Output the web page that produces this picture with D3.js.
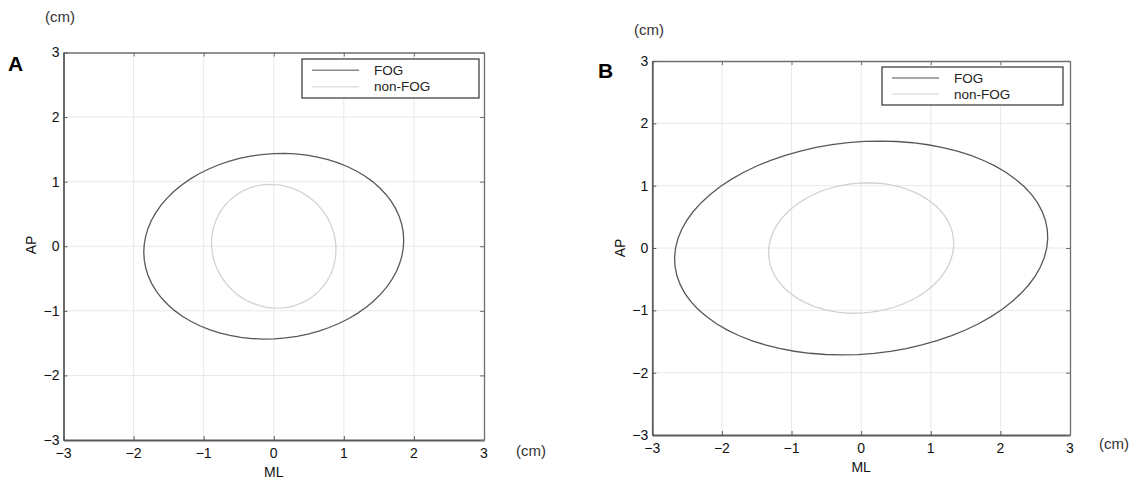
<!DOCTYPE html>
<html>
<head>
<meta charset="utf-8">
<script src="https://cdn.jsdelivr.net/npm/d3@7"></script>
<style>
  html, body { margin: 0; padding: 0; background: #fff; }
  svg { display: block; }
  text { font-family: "Liberation Sans", Arial, sans-serif; }
</style>
</head>
<body>
<svg id="chart" width="1136" height="481"></svg>
<script>
// ---- data ----
const panelIds = ["A", "B"];
const seriesNames = ["FOG", "non-FOG"];
const axisTicks = [-3, -2, -1, 0, 1, 2, 3];
// ellipse params: [centerML, centerAP, semiML, semiAP, tilt (rad)]
const ellipseA_FOG = [0.0, 0.0, 1.86, 1.43, 0.12];
const ellipseA_nonFOG = [0.0, 0.0, 0.88, 0.965, 0.3];
const ellipseB_FOG = [0.0, 0.0, 2.69, 1.70, 0.11];
const ellipseB_nonFOG = [0.0, 0.0, 1.335, 1.04, 0.14];

// ---- layout ----
const layout = {
  A: { x0: 63.5, x1: 484, y0: 52.5, y1: 440, lx0: 302, lx1: 479, ly0: 59, ly1: 98,
       letter: [8, 71], cmTop: [45, 22], cmRight: [516, 456], ap: [31, 245], ml: 472, tickY: 453 },
  B: { x0: 652.3, x1: 1070, y0: 61, y1: 435, lx0: 882, lx1: 1063, ly0: 67, ly1: 105,
       letter: [598, 78], cmTop: [634, 35], cmRight: [1099, 449], ap: [620, 248], ml: 467, tickY: 448 }
};
const ellipses = { A: [ellipseA_FOG, ellipseA_nonFOG], B: [ellipseB_FOG, ellipseB_nonFOG] };
const seriesColor = ["#585858", "#d2d2d2"];
const legendColor = ["#8a8a8a", "#e0e0e0"];

const svg = d3.select("#chart");

function ellipsePoints(p) {
  const [cx, cy, a, b, th] = p;
  return d3.range(0, 73).map(i => {
    const t = i / 72 * 2 * Math.PI;
    const ex = a * Math.cos(t), ey = b * Math.sin(t);
    return [cx + ex * Math.cos(th) - ey * Math.sin(th), cy + ex * Math.sin(th) + ey * Math.cos(th)];
  });
}

panelIds.forEach(id => {
  const L = layout[id];
  const x = d3.scaleLinear().domain([-3, 3]).range([L.x0, L.x1]);
  const y = d3.scaleLinear().domain([-3, 3]).range([L.y1, L.y0]);
  const g = svg.append("g");

  // grid
  g.append("g").selectAll("line").data(axisTicks.slice(1, -1)).join("line")
    .attr("x1", d => x(d)).attr("x2", d => x(d)).attr("y1", L.y0).attr("y2", L.y1)
    .attr("stroke", "#e8e8e8").attr("stroke-width", 1);
  g.append("g").selectAll("line").data(axisTicks.slice(1, -1)).join("line")
    .attr("y1", d => y(d)).attr("y2", d => y(d)).attr("x1", L.x0).attr("x2", L.x1)
    .attr("stroke", "#e8e8e8").attr("stroke-width", 1);

  // ellipses
  const line = d3.line().x(d => x(d[0])).y(d => y(d[1]));
  ellipses[id].forEach((p, i) => {
    g.append("path").attr("d", line(ellipsePoints(p)))
      .attr("fill", "none").attr("stroke", seriesColor[i]).attr("stroke-width", 1.3);
  });

  // axes (inward ticks, box)
  const bottom = g.append("g").attr("transform", `translate(0,${L.y1})`)
    .call(d3.axisBottom(x).tickValues(axisTicks).tickSizeInner(-4).tickSizeOuter(0).tickFormat(() => ""));
  const top = g.append("g").attr("transform", `translate(0,${L.y0})`)
    .call(d3.axisTop(x).tickValues(axisTicks).tickSizeInner(-4).tickSizeOuter(0).tickFormat(() => ""));
  const left = g.append("g").attr("transform", `translate(${L.x0},0)`)
    .call(d3.axisLeft(y).tickValues(axisTicks).tickSizeInner(-4).tickSizeOuter(0).tickFormat(() => ""));
  const right = g.append("g").attr("transform", `translate(${L.x1},0)`)
    .call(d3.axisRight(y).tickValues(axisTicks).tickSizeInner(-4).tickSizeOuter(0).tickFormat(() => ""));
  [bottom, left].forEach(a => {
    a.select(".domain").attr("stroke", "#5a5a5a").attr("stroke-width", 1.8);
    a.selectAll(".tick line").attr("stroke", "#5a5a5a");
  });
  [top, right].forEach(a => {
    a.select(".domain").attr("stroke", "#6e6e6e").attr("stroke-width", 1.3);
    a.selectAll(".tick line").attr("stroke", "#6e6e6e");
  });

  // tick labels
  const fmt = d => d < 0 ? "\u2212" + Math.abs(d) : String(d);
  g.append("g").selectAll("text").data(axisTicks).join("text")
    .attr("x", d => x(d)).attr("y", L.tickY).attr("dy", "0.35em")
    .attr("text-anchor", "middle").attr("font-size", 14).attr("fill", "#111")
    .text(fmt);
  g.append("g").selectAll("text").data(axisTicks).join("text")
    .attr("x", L.x0 - 4).attr("y", d => y(d)).attr("dy", "0.35em")
    .attr("text-anchor", "end").attr("font-size", 14).attr("fill", "#111")
    .text(fmt);

  // axis titles
  g.append("text").attr("x", (L.x0 + L.x1) / 2).attr("y", L.ml).attr("dy", "0.35em")
    .attr("text-anchor", "middle").attr("font-size", 14).attr("fill", "#111").text("ML");
  g.append("text").attr("transform", `translate(${L.ap[0]},${L.ap[1]}) rotate(-90)`)
    .attr("dy", "0.35em").attr("text-anchor", "middle").attr("font-size", 14).attr("fill", "#111").text("AP");

  // panel letter and units
  g.append("text").attr("x", L.letter[0]).attr("y", L.letter[1])
    .attr("font-size", 21).attr("font-weight", "bold").attr("fill", "#000").text(id);
  g.append("text").attr("x", L.cmTop[0]).attr("y", L.cmTop[1])
    .attr("font-size", 15).attr("fill", "#333").text("(cm)");
  g.append("text").attr("x", L.cmRight[0]).attr("y", L.cmRight[1])
    .attr("font-size", 15).attr("fill", "#333").text("(cm)");

  // legend
  const lg = g.append("g");
  const lh = L.ly1 - L.ly0;
  lg.append("rect").attr("x", L.lx0).attr("y", L.ly0)
    .attr("width", L.lx1 - L.lx0).attr("height", lh)
    .attr("fill", "#fff").attr("stroke", "#333").attr("stroke-width", 1.2);
  seriesNames.forEach((s, i) => {
    const yy = L.ly0 + lh * (i === 0 ? 0.29 : 0.71);
    lg.append("line").attr("x1", L.lx0 + 10).attr("x2", L.lx0 + 57)
      .attr("y1", yy).attr("y2", yy).attr("stroke", legendColor[i]).attr("stroke-width", 1.5);
    lg.append("text").attr("x", L.lx0 + 72).attr("y", yy).attr("dy", "0.35em")
      .attr("font-size", 13.5).attr("fill", "#222").text(s);
  });
});
</script>
</body>
</html>
